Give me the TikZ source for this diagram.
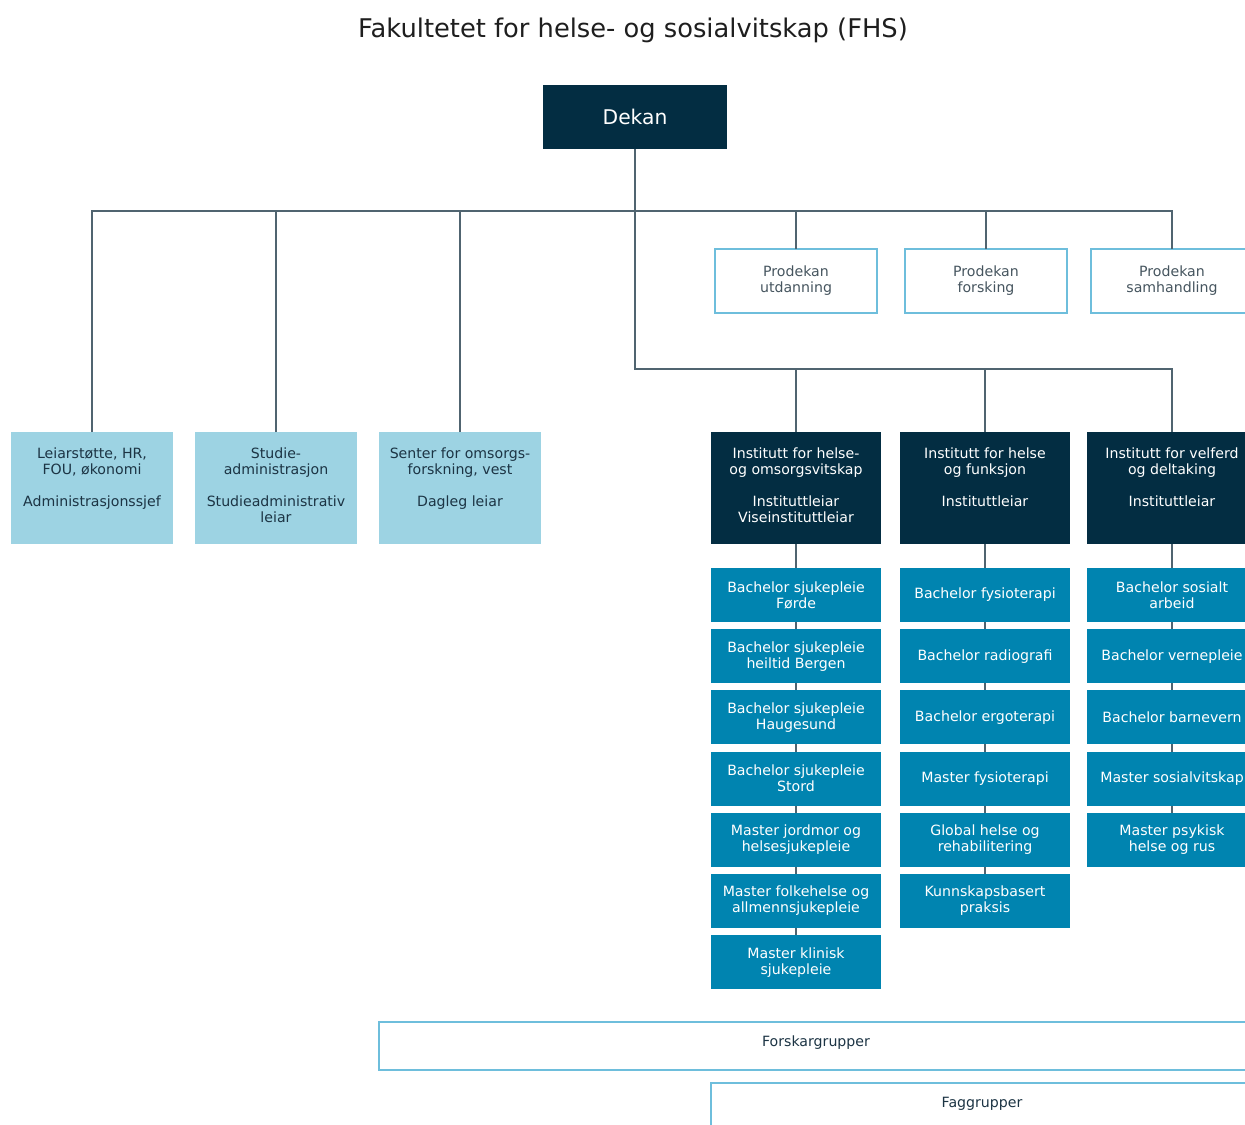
\documentclass[tikz,border=0pt]{standalone}
\usepackage{fontspec}
\setmainfont{DejaVu Sans}
\definecolor{navy}{RGB}{3,45,66}
\definecolor{progblue}{RGB}{0,132,176}
\definecolor{lightbox}{RGB}{157,211,227}
\definecolor{prodborder}{RGB}{110,190,220}
\definecolor{linecol}{RGB}{80,100,112}
\definecolor{darktext}{RGB}{28,52,68}
\definecolor{graytext}{RGB}{70,85,95}
\definecolor{titletext}{RGB}{30,30,30}
\begin{document}
\begin{tikzpicture}[x=0.75pt,y=-0.75pt,
  every node/.style={inner sep=0pt,outer sep=0pt},
  conn/.style={draw=linecol,line width=1.1pt},
  bfont/.style={font=\fontsize{10.6}{12}\selectfont},
  lbox/.style={fill=lightbox,minimum width=121.5pt,minimum height=84pt},
  ltext/.style={bfont,text=darktext,align=center,anchor=north},
  pbox/.style={draw=prodborder,line width=1.5pt,fill=white,minimum width=121.5pt,minimum height=48pt,bfont,text=graytext,align=center},
  ibox/.style={fill=navy,minimum width=127.5pt,minimum height=84pt},
  itext/.style={bfont,text=white,align=center,anchor=north},
  prog/.style={fill=progblue,minimum width=127.5pt,minimum height=40.5pt,bfont,text=white,align=center},
  gbox/.style={draw=prodborder,line width=1.5pt,fill=white,minimum height=36pt},
  gtext/.style={bfont,text=darktext,anchor=north}
]
\path[use as bounding box,clip] (0,0) rectangle (1245,1124);

% title
\node[font=\fontsize{19.3}{22}\selectfont,text=titletext] (title) at (633,30) {Fakultetet for helse- og sosialvitskap (FHS)};

% dekan
\node[fill=navy,minimum width=138pt,minimum height=48pt,text=white,font=\fontsize{15.2}{18}\selectfont] (dekan) at (635,117) {Dekan};

% left staff boxes
\node[lbox] (l1) at (92,488) {};
\node[lbox] (l2) at (276,488) {};
\node[lbox] (l3) at (460,488) {};
\node[ltext] (l1t) at ([yshift=-12pt]l1.north) {Leiarstøtte, HR,\\FOU, økonomi\\[12pt]Administrasjonssjef};
\node[ltext] (l2t) at ([yshift=-12pt]l2.north) {Studie-\\administrasjon\\[12pt]Studieadministrativ\\leiar};
\node[ltext] (l3t) at ([yshift=-12pt]l3.north) {Senter for omsorgs-\\forskning, vest\\[12pt]Dagleg leiar};

% prodekan
\node[pbox] (p1) at (796,281) {Prodekan\\utdanning};
\node[pbox] (p2) at (986,281) {Prodekan\\forsking};
\node[pbox] (p3) at (1172,281) {Prodekan\\samhandling};

% institutes
\node[ibox] (i1) at (796,488) {};
\node[ibox] (i2) at (985,488) {};
\node[ibox] (i3) at (1172,488) {};
\node[itext] (i1t) at ([yshift=-12pt]i1.north) {Institutt for helse-\\og omsorgsvitskap\\[12pt]Instituttleiar\\Viseinstituttleiar};
\node[itext] (i2t) at ([yshift=-12pt]i2.north) {Institutt for helse\\og funksjon\\[12pt]Instituttleiar};
\node[itext] (i3t) at ([yshift=-12pt]i3.north) {Institutt for velferd\\og deltaking\\[12pt]Instituttleiar};

% programmes column 1
\node[prog] (a1) at (796,595) {Bachelor sjukepleie\\Førde};
\node[prog] (a2) at (796,656.2) {Bachelor sjukepleie\\heiltid Bergen};
\node[prog] (a3) at (796,717.4) {Bachelor sjukepleie\\Haugesund};
\node[prog] (a4) at (796,778.6) {Bachelor sjukepleie\\Stord};
\node[prog] (a5) at (796,839.8) {Master jordmor og\\helsesjukepleie};
\node[prog] (a6) at (796,901) {Master folkehelse og\\allmennsjukepleie};
\node[prog] (a7) at (796,962.2) {Master klinisk\\sjukepleie};
% column 2
\node[prog] (b1) at (985,595) {Bachelor fysioterapi};
\node[prog] (b2) at (985,656.2) {Bachelor radiografi};
\node[prog] (b3) at (985,717.4) {Bachelor ergoterapi};
\node[prog] (b4) at (985,778.6) {Master fysioterapi};
\node[prog] (b5) at (985,839.8) {Global helse og\\rehabilitering};
\node[prog] (b6) at (985,901) {Kunnskapsbasert\\praksis};
% column 3
\node[prog] (c1) at (1172,595) {Bachelor sosialt\\arbeid};
\node[prog] (c2) at (1172,656.2) {Bachelor vernepleie};
\node[prog] (c3) at (1172,717.4) {Bachelor barnevern};
\node[prog] (c4) at (1172,778.6) {Master sosialvitskap};
\node[prog] (c5) at (1172,839.8) {Master psykisk\\helse og rus};

% groups
\node[gbox,minimum width=655.5pt] (fg) at (816,1046) {};
\node[gtext] (fgt) at ([yshift=-10.5pt]fg.north) {Forskargrupper};
\node[gbox,minimum width=406.5pt] (gg) at (982,1107) {};
\node[gtext] (ggt) at ([yshift=-11pt]gg.north) {Faggrupper};

% connectors
\coordinate (hR) at (1172,211);
\coordinate (j2) at (635,369);
\draw[conn] (dekan.south) -- (j2) -| (i3.north);
\draw[conn] (l1.north) |- (hR) -- (p3.north);
\draw[conn] (l2.north) -- (l2.north |- hR);
\draw[conn] (l3.north) -- (l3.north |- hR);
\draw[conn] (p1.north) -- (p1.north |- hR);
\draw[conn] (p2.north) -- (p2.north |- hR);
\draw[conn] (i1.north) -- (i1.north |- j2);
\draw[conn] (i2.north) -- (i2.north |- j2);

\draw[conn] (i1.south) -- (a1.north);
\draw[conn] (a1.south) -- (a2.north);
\draw[conn] (a2.south) -- (a3.north);
\draw[conn] (a3.south) -- (a4.north);
\draw[conn] (a4.south) -- (a5.north);
\draw[conn] (a5.south) -- (a6.north);
\draw[conn] (a6.south) -- (a7.north);

\draw[conn] (i2.south) -- (b1.north);
\draw[conn] (b1.south) -- (b2.north);
\draw[conn] (b2.south) -- (b3.north);
\draw[conn] (b3.south) -- (b4.north);
\draw[conn] (b4.south) -- (b5.north);
\draw[conn] (b5.south) -- (b6.north);

\draw[conn] (i3.south) -- (c1.north);
\draw[conn] (c1.south) -- (c2.north);
\draw[conn] (c2.south) -- (c3.north);
\draw[conn] (c3.south) -- (c4.north);
\draw[conn] (c4.south) -- (c5.north);
\end{tikzpicture}
\end{document}
